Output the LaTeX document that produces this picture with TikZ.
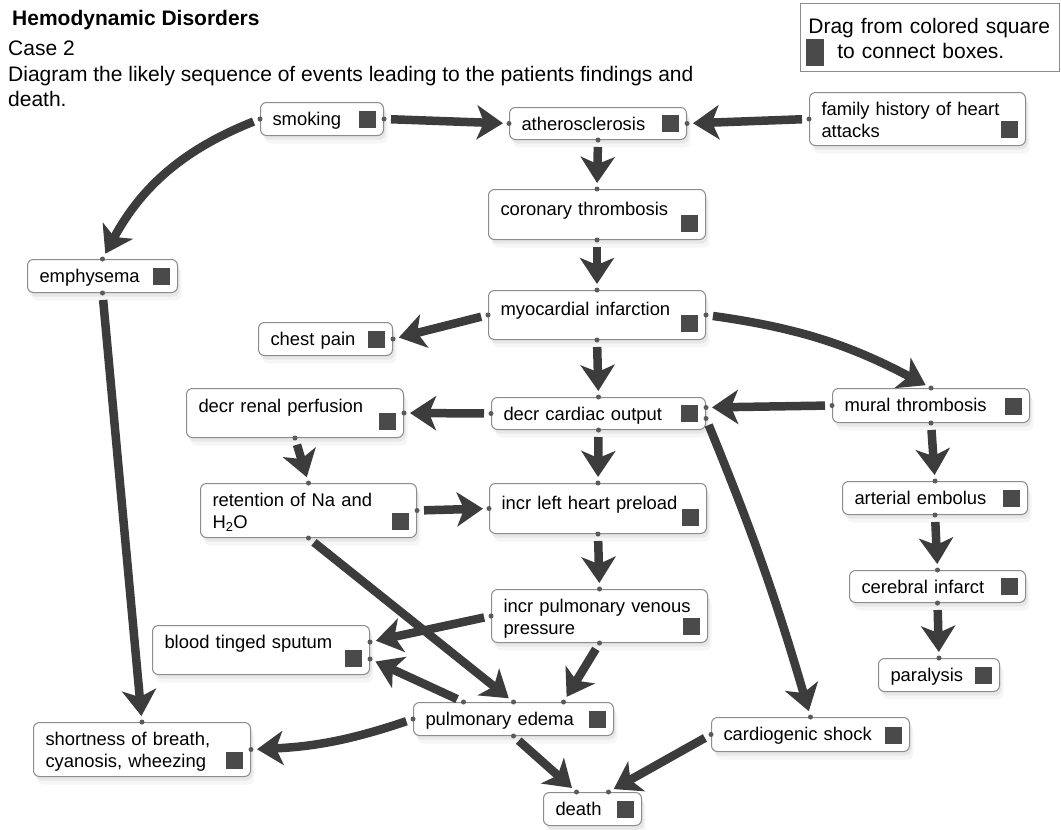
\documentclass[tikz,border=0pt]{standalone}
\usepackage{fontspec}
\setmainfont{Liberation Sans}
\usetikzlibrary{arrows.meta,shadows}
\definecolor{linkc}{HTML}{3C3C3C}
\definecolor{sqc}{HTML}{4A4A4A}
\definecolor{framec}{HTML}{8C8C8C}
\definecolor{dotc}{HTML}{5A5A5A}
\newcommand\evfont{\fontsize{18.4}{22}\selectfont}
\newcommand\hdfont{\fontsize{21}{25}\selectfont}
\begin{document}
\begin{tikzpicture}[x=1pt,y=-1pt,
  evbox/.style={draw=framec, line width=1pt, fill=white, rounded corners=6pt, anchor=north west, align=left,
    inner xsep=12pt, inner ysep=8pt, text height=15pt, font=\evfont,
    drop shadow={shadow xshift=4pt, shadow yshift=-8pt, opacity=.07},
    drop shadow={shadow xshift=2pt, shadow yshift=-4pt, opacity=.12}},
  sqr/.style={fill=sqc, minimum size=17pt, inner sep=0pt, anchor=south east},
  link/.style={line width=8.5pt, draw=linkc, -{Stealth[length=26pt,width=34pt,inset=7pt]}, shorten <=7pt, shorten >=6pt},
  hd/.style={anchor=base west, inner sep=0pt, font=\hdfont}]
\fill[white] (0,0) rectangle (1061,830);
\useasboundingbox (0,0) rectangle (1061,830);

\node[hd, font=\hdfont\bfseries] (title) at (12,25) {Hemodynamic Disorders};
\node[hd] (casenum) at (8,55) {Case 2};
\node[hd] (prompt) at (8,81) {Diagram the likely sequence of events leading to the patients findings and};
\node[hd] (promptend) at (8,106) {death.};

\node[draw=framec, line width=0.8pt, anchor=north west, inner xsep=8pt, inner ysep=6pt, text width=243pt,
  text height=24pt, text depth=32pt, align=left, font=\hdfont] (legend) at (800,3)
  {Drag from colored square\\\hspace*{29pt}to connect boxes.};
\node[fill=sqc, minimum width=18pt, minimum height=27pt, inner sep=0pt, anchor=north west] (legendsq) at (806,39) {};

\node[evbox, text width=99pt, text depth=2pt] (smoking) at (260,102) {smoking};
\node[evbox, text width=153pt, text depth=1pt] (athero) at (509,107) {atherosclerosis};
\node[evbox, text width=192pt, text depth=22pt] (family) at (809,92) {family history of heart\\attacks};
\node[evbox, text width=193pt, text height=18pt, text depth=16pt] (coronary) at (488,189) {coronary thrombosis};
\node[evbox, text width=126pt, text depth=2pt] (emphysema) at (27,259) {emphysema};
\node[evbox, text width=193pt, text height=17pt, text depth=16pt] (mi) at (488,290) {myocardial infarction};
\node[evbox, text width=110pt, text depth=2pt] (chest) at (258,322) {chest pain};
\node[evbox, text width=193pt, text height=16pt, text depth=17pt] (renal) at (186,388) {decr renal perfusion};
\node[evbox, text width=190pt, text depth=1pt] (cardiac) at (491,397) {decr cardiac output};
\node[evbox, text width=173pt, text depth=3pt] (mural) at (832,388) {mural thrombosis};
\node[evbox, text width=192pt, text depth=23pt] (retention) at (200,483) {retention of Na and\\H\textsubscript{2}O};
\node[evbox, text width=193pt, text height=18pt, text depth=16pt] (preload) at (489,483) {incr left heart preload};
\node[evbox, text width=161pt, text depth=2pt] (arterial) at (842,481) {arterial embolus};
\node[evbox, text width=152pt, text depth=1pt] (cerebral) at (849,570) {cerebral infarct};
\node[evbox, text width=192pt, text depth=22pt] (venous) at (491,589) {incr pulmonary venous\\pressure};
\node[evbox, text width=193pt, text depth=18pt] (sputum) at (152,625) {blood tinged sputum};
\node[evbox, text width=97pt, text depth=2pt] (paralysis) at (878,658) {paralysis};
\node[evbox, text width=176pt, text depth=2pt] (edema) at (413,702) {pulmonary edema};
\node[evbox, text width=193pt, text depth=23pt] (breath) at (33,722) {shortness of breath,\\cyanosis, wheezing};
\node[evbox, text width=174pt, text depth=3pt] (shock) at (711,717) {cardiogenic shock};
\node[evbox, text width=74pt, text depth=2pt] (death) at (543,792) {death};

% colored squares
\foreach \n in {smoking,athero,family,coronary,emphysema,mi,chest,renal,cardiac,mural,retention,
  preload,arterial,cerebral,venous,sputum,paralysis,edema,breath,shock,death}
  \node[sqr] (\n sq) at ([xshift=-8pt,yshift=8pt]\n.south east) {};

\coordinate (cardiacin) at ([yshift=6pt]cardiac.east);
\coordinate (cardiacout) at ([yshift=-5pt]cardiac.east);
\coordinate (sputumin1) at ([yshift=8pt]sputum.east);
\coordinate (sputumin2) at ([yshift=-9pt]sputum.east);
\coordinate (edemaout) at ([xshift=-50pt]edema.north);
\coordinate (edemain) at ([xshift=50pt]edema.north);
\coordinate (deathin1) at ([xshift=-16pt]death.north);
\coordinate (deathin2) at ([xshift=16pt]death.north);

\draw[link] (smoking.east) -- (athero.west);
\draw[link] (family.west) -- (athero.east);
\draw[link] (athero.south) -- (coronary.north);
\draw[link] (coronary.south) -- (mi.north);
\draw[link] (smoking.west) to[bend right=20] (emphysema.north);
\draw[link] (emphysema.south) -- (breath.north);
\draw[link] (mi.west) -- (chest.east);
\draw[link] (mi.south) -- (cardiac.north);
\draw[link] (mi.east) to[bend left=10] (mural.north);
\draw[link] (mural.west) -- (cardiacin);
\draw[link] (cardiac.west) -- (renal.east);
\draw[link] (cardiac.south) -- (preload.north);
\draw[link] (cardiacout) to[bend left=3] (shock.north);
\draw[link] (renal.south) -- (retention.north);
\draw[link] (retention.east) -- (preload.west);
\draw[link] (retention.south) -- (edema.north);
\draw[link] (preload.south) -- (venous.north);
\draw[link] (venous.west) -- (sputumin1);
\draw[link] (venous.south) -- (edemain);
\draw[link] (edemaout) -- (sputumin2);
\draw[link] (edema.west) to[bend left=8] (breath.east);
\draw[link] (edema.south) -- (deathin1);
\draw[link] (shock.west) -- (deathin2);
\draw[link] (mural.south) -- (arterial.north);
\draw[link] (arterial.south) -- (cerebral.north);
\draw[link] (cerebral.south) -- (paralysis.north);

% connection dots
\foreach \p in {smoking.east,smoking.west,athero.west,athero.east,athero.south,family.west,
  coronary.north,coronary.south,mi.north,mi.west,mi.east,mi.south,emphysema.north,emphysema.south,
  breath.north,breath.east,chest.east,cardiac.north,cardiac.west,cardiac.south,cardiacin,cardiacout,
  mural.north,mural.west,mural.south,renal.east,renal.south,retention.north,retention.east,
  retention.south,preload.north,preload.west,preload.south,venous.north,venous.west,venous.south,
  sputumin1,sputumin2,edemaout,edema.north,edemain,edema.west,edema.south,deathin1,deathin2,
  shock.north,shock.west,arterial.north,arterial.south,cerebral.north,cerebral.south,paralysis.north}
  \fill[dotc] (\p) circle (2.5pt);

\end{tikzpicture}
\end{document}
